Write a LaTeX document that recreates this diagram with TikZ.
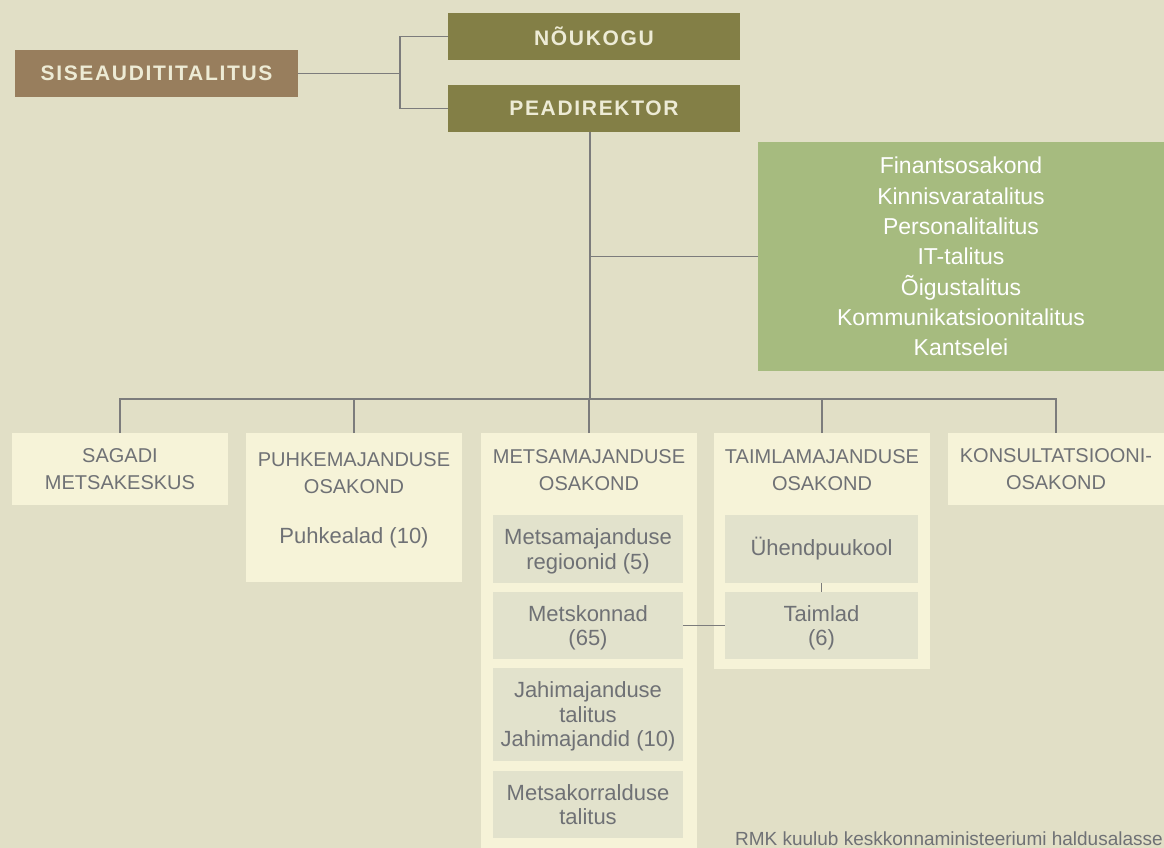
\documentclass[tikz,border=0pt]{standalone}
\usepackage{fontspec}
\setmainfont{Liberation Sans}
\newfontfamily\titlefont[LetterSpace=8]{Liberation Sans}
\definecolor{bgc}{HTML}{E1DFC6}
\definecolor{olivec}{HTML}{837F46}
\definecolor{brownc}{HTML}{987E5D}
\definecolor{greenc}{HTML}{A6BB7F}
\definecolor{creamc}{HTML}{F6F3D8}
\definecolor{innerc}{HTML}{E2E2CC}
\definecolor{graytext}{HTML}{6F7175}
\definecolor{lighttext}{HTML}{EDEBD5}
\definecolor{linec}{HTML}{7C7C7C}
\begin{document}
\begin{tikzpicture}[x=1pt,y=-1pt,
  box/.style={inner sep=0pt, outer sep=0pt, anchor=north west, align=center},
  headbox/.style={box, text=lighttext, font=\titlefont\bfseries\fontsize{21}{25}\selectfont},
  greenbox/.style={box, fill=greenc, text=white, text depth=0pt, font=\fontsize{23}{30.3}\selectfont},
  unitbox/.style={box, fill=creamc, text=graytext, text depth=0pt, font=\fontsize{20}{27}\selectfont},
  innerbox/.style={box, fill=innerc, text=graytext, text depth=0pt, font=\fontsize{22}{24.5}\selectfont},
  titletext/.style={inner sep=0pt, align=center, text depth=0pt, text=graytext, font=\fontsize{20}{27}\selectfont},
  subtext/.style={inner sep=0pt, align=center, text depth=0pt, text=graytext, font=\fontsize{22}{24.5}\selectfont},
  conn/.style={draw=linec, line width=1.4pt}
]
\fill[bgc] (0,0) rectangle (1164,848);
\useasboundingbox (0,0) rectangle (1164,848);

% top
\node[headbox, fill=brownc, minimum width=283, minimum height=47] (sise) at (15,50) {SISEAUDITITALITUS};
\node[headbox, fill=olivec, minimum width=292, minimum height=47] (nouk) at (448,13) {NÕUKOGU};
\node[headbox, fill=olivec, minimum width=292, minimum height=47] (pead) at (448,85) {PEADIREKTOR};
\node[greenbox, minimum width=406, minimum height=229] (green) at (758,142)
  {Finantsosakond\\Kinnisvaratalitus\\Personalitalitus\\IT-talitus\\Õigustalitus\\Kommunikatsioonitalitus\\Kantselei};

% departments
\node[unitbox, minimum width=216, minimum height=72] (sagadi) at (12,433) {SAGADI\\METSAKESKUS};
\node[unitbox, minimum width=216, minimum height=149] (puhke) at (246,433) {};
\node[unitbox, minimum width=216, minimum height=420] (metsa) at (481,433) {};
\node[unitbox, minimum width=216, minimum height=236] (taim) at (714,433) {};
\node[unitbox, minimum width=216, minimum height=72] (konsult) at (948,433) {KONSULTATSIOONI-\\OSAKOND};

\node[titletext] (puhketitle) at (354,473.5) {PUHKEMAJANDUSE\\OSAKOND};
\node[subtext] (puhkealad) at (354,536) {Puhkealad (10)};
\node[titletext] (metsatitle) at (589,470.5) {METSAMAJANDUSE\\OSAKOND};
\node[titletext] (taimtitle) at (822,470.5) {TAIMLAMAJANDUSE\\OSAKOND};

% inner boxes
\node[innerbox, minimum width=190, minimum height=68] (reg) at (493,515) {Metsamajanduse\\regioonid (5)};
\node[innerbox, minimum width=190, minimum height=67] (metsk) at (493,592) {Metskonnad\\(65)};
\node[innerbox, minimum width=190, minimum height=93] (jahi) at (493,668) {Jahimajanduse\\talitus\\Jahimajandid (10)};
\node[innerbox, minimum width=190, minimum height=67] (korr) at (493,771) {Metsakorralduse\\talitus};
\node[innerbox, text depth=4.6pt, minimum width=193, minimum height=68] (uhend) at (725,515) {Ühendpuukool};
\node[innerbox, minimum width=193, minimum height=67] (taimlad) at (725,592) {Taimlad\\(6)};

% connectors
\coordinate (j1) at (400,73.5);
\coordinate (pd) at ([xshift=-4]pead.south);
\coordinate (bus) at (590,399);
\draw[conn] (sise.east) -- (j1);
\draw[conn] (nouk.west) -| (j1) |- (pead.west);
\draw[conn] (pd) -- (bus);
\draw[conn] (pd |- green.west) -- (green.west);
\draw[conn] (sagadi.north) -- (sagadi.north |- bus) -- (konsult.north |- bus) -- (konsult.north);
\draw[conn] (puhke.north) -- (puhke.north |- bus);
\draw[conn] (metsa.north) -- (metsa.north |- bus);
\draw[conn] (taim.north) -- (taim.north |- bus);
\draw[conn] (metsk.east) -- (taimlad.west);
\draw[conn] (uhend.south) -- (taimlad.north);

% footnote
\node[inner sep=0pt, anchor=base east, text=graytext, font=\fontsize{19}{22}\selectfont] (note) at (1163,845) {RMK kuulub keskkonnaministeeriumi haldusalasse};
\end{tikzpicture}
\end{document}
